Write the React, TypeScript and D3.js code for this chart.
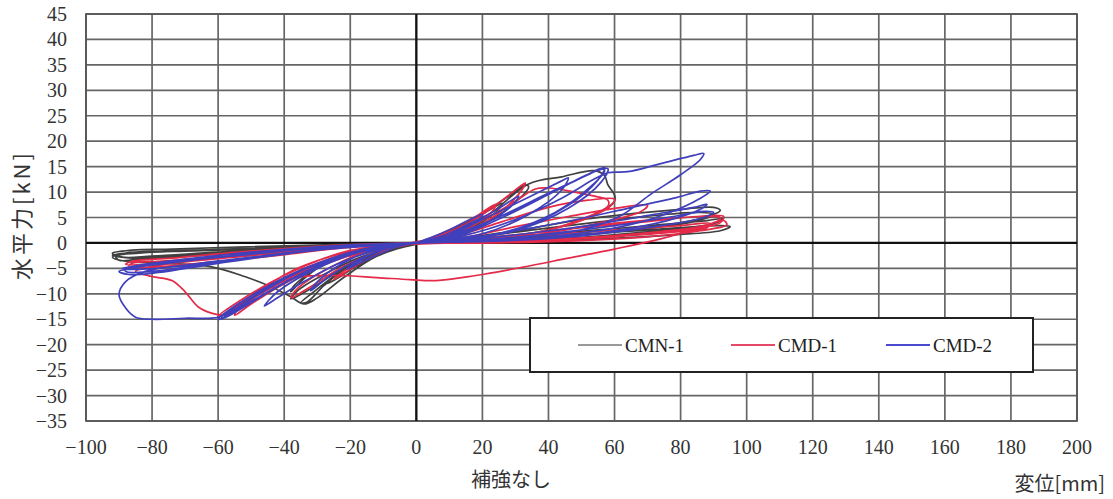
import React from "react";
import * as d3 from "d3";

const xTicks = [-100, -80, -60, -40, -20, 0, 20, 40, 60, 80, 100, 120, 140, 160, 180, 200];
const yTicks = [-35, -30, -25, -20, -15, -10, -5, 0, 5, 10, 15, 20, 25, 30, 35, 40, 45];

const seriesNames = ["CMN-1", "CMD-1", "CMD-2"];
const seriesColors = ["#404040", "#e42a48", "#4040bc"];
const legendColors = ["#9a9a9a", "#e84868", "#4a4ad0"];

const cmn1: [number, number][] = [
  [0, 0], [6, 1.2], [12, 3], [17, 4.6], [16, 3.6], [10, 1.6], [0, 0], [-8, -1.4], [-15, -3.4], [-18, -4.6], [-16, -3.6], [-8, -1.2], [0, 0],
  [8, 1.6], [16, 4], [22, 6.4], [26, 7.8], [24, 6], [16, 2.8], [6, 0.6], [-6, -1.2], [-16, -3.8], [-24, -7], [-27, -8], [-24, -6.2], [-14, -2.4], [0, 0],
  [10, 2.2], [20, 5.8], [28, 9.2], [33, 11.4], [34, 11], [30, 8], [20, 3.6], [8, 0.8], [-8, -1.2], [-20, -4.4], [-28, -8.4], [-33, -11.6], [-35, -11.8], [-31, -9.6], [-22, -5.2], [-10, -1.4], [0, 0],
  [10, 1.8], [22, 5.6], [34, 11.6], [44, 13], [54, 14.2], [57, 13.2], [58, 11.4], [60, 9.4], [60, 8.2], [54, 5.6], [40, 2.6], [22, 0.8], [4, 0.1], [-14, -1], [-26, -3.4], [-34, -7], [-38, -9.6], [-37, -8.4], [-30, -5], [-18, -1.6], [0, 0],
  [-10, -1.8], [-22, -5], [-32, -9], [-38, -11], [-36, -9.4], [-28, -6.2], [-16, -2.6], [0, 0],
  [14, 1], [32, 2.6], [50, 4.6], [66, 5.8], [80, 6.6], [90, 7], [92, 6.4], [86, 4.8], [70, 3], [50, 1.6], [26, 0.6], [0, 0], [-26, -0.6], [-50, -1.2], [-70, -1.6], [-84, -2], [-91, -2.6], [-90, -3.4], [-84, -3.2], [-68, -2.6], [-46, -1.6], [-22, -0.6], [0, 0],
  [16, 1], [36, 2.6], [56, 4.2], [72, 5.4], [86, 6], [90, 5.6], [84, 4.2], [66, 2.6], [44, 1.2], [20, 0.3], [0, 0], [-24, -0.4], [-50, -1], [-72, -1.6], [-88, -2], [-92, -2.4], [-86, -3], [-70, -2.4], [-44, -1.2], [-18, -0.3], [0, 0],
  [16, 0.6], [36, 1.6], [56, 2.6], [74, 3.6], [88, 4.4], [93, 4.8], [90, 3.8], [76, 2.6], [56, 1.4], [30, 0.4], [0, 0], [-28, -0.4], [-54, -0.8], [-74, -1.2], [-86, -1.4], [-92, -2], [-89, -2.8], [-80, -2.6], [-60, -1.8], [-36, -1], [-14, -0.3], [0, 0],
  [20, 0.6], [42, 1.4], [62, 2.2], [80, 3], [92, 3.4], [95, 3.2], [92, 2.4], [78, 1.6], [56, 0.8], [30, 0.2], [0, 0], [-30, -0.6], [-56, -1.2], [-76, -1.6], [-88, -2], [-92, -2.8], [-88, -3.6], [-76, -4], [-62, -4.7], [-52, -6.6], [-44, -8.6], [-38, -10.6], [-34, -12], [-30, -10.8], [-22, -6.8], [-12, -2.6], [0, 0],
];

const cmd1: [number, number][] = [
  [0, 0], [6, 1.4], [12, 3.2], [18, 5.2], [24, 7.6], [23, 6.2], [16, 3], [8, 1], [0, 0.2], [-8, -1.2], [-16, -3.6], [-22, -6], [-25, -7.2], [-22, -5.6], [-14, -2.2], [-6, -0.4], [0, 0],
  [8, 1.6], [16, 4], [24, 7.4], [30, 10.4], [33, 11.8], [31, 9.6], [24, 5.4], [14, 2], [2, 0.2], [-10, -1.4], [-22, -4.6], [-32, -8.6], [-38, -10.8], [-36, -9], [-26, -4.8], [-12, -1], [0, 0],
  [10, 1.6], [20, 4.4], [30, 8.2], [36, 10.6], [40, 10.8], [48, 10], [54, 9.2], [58, 8.4], [58, 7.2], [52, 5.2], [40, 2.6], [24, 1], [8, 0.3], [-10, -0.8], [-26, -3.8], [-40, -8], [-50, -12], [-55, -14.2], [-54, -13], [-46, -9.6], [-32, -5], [-16, -1.4], [0, 0],
  [12, 1.4], [26, 4.2], [40, 7], [52, 8.4], [60, 8.6], [59, 7.4], [50, 4.4], [36, 2], [18, 0.6], [0, 0], [-16, -1.4], [-32, -4.6], [-46, -9.4], [-56, -13.2], [-60, -14.6], [-56, -13.4], [-46, -9], [-30, -4], [-12, -0.8], [0, 0],
  [14, 1], [30, 3.2], [46, 5.2], [60, 6.8], [70, 7.4], [68, 6.2], [56, 4], [38, 1.8], [18, 0.4], [0, 0], [-18, -1.4], [-36, -5], [-50, -10.4], [-58, -14], [-60, -14.4], [-54, -11.6], [-40, -6.4], [-22, -1.8], [0, 0],
  [16, 0.8], [36, 2], [56, 3.6], [72, 4.6], [86, 5.2], [92, 5], [91, 4.2], [84, 3], [70, 2], [50, 1], [26, 0.3], [0, 0], [-24, -0.8], [-46, -2], [-64, -3], [-78, -3.6], [-86, -4], [-87, -4.6], [-82, -4.8], [-66, -4], [-44, -2.6], [-22, -1], [0, 0],
  [18, 0.6], [40, 1.6], [62, 2.6], [80, 3.4], [89, 3.8], [88, 3], [76, 2], [54, 1], [28, 0.2], [0, 0], [-28, -0.6], [-54, -1.8], [-74, -3], [-86, -3.6], [-88, -4.2], [-80, -4.2], [-60, -3], [-34, -1.4], [-12, -0.3], [0, 0],
  [10, 0.4], [30, 1.6], [50, 3], [70, 4.2], [85, 5.2], [93, 5.2], [92, 4], [80, 2.4], [60, 1.2], [35, 0.5], [10, 0], [-20, -0.8], [-45, -2.2], [-65, -3.4], [-80, -4.6], [-85, -5.6], [-80, -6.6], [-74, -7.4], [-70, -9.6], [-66, -12.6], [-62, -13.8], [-57, -14.2], [-54, -13.2], [-46, -9.4], [-36, -6.8], [-24, -6.4], [-12, -6.8], [-2, -7.2], [6, -7.4], [18, -6.4], [32, -4.8], [46, -3], [60, -1.2], [74, 0.8], [86, 3], [93, 4.4], [94, 3.6], [86, 2.4], [70, 1.2], [48, 0.4], [24, 0], [0, 0],
];

const cmd2: [number, number][] = [
  [0, 0], [5, 1.2], [10, 2.6], [15, 4.2], [20, 5.6], [19, 4.6], [14, 2.6], [8, 1], [0, 0.1], [-6, -0.8], [-12, -2.4], [-18, -4.2], [-21, -5.2], [-19, -4.2], [-12, -1.8], [-5, -0.4], [0, 0],
  [8, 1.4], [16, 3.8], [24, 6.4], [31, 9.2], [29, 7.4], [22, 4.2], [12, 1.4], [2, 0.2], [-8, -0.9], [-18, -3.4], [-26, -6.4], [-32, -9.4], [-29, -7], [-20, -3.2], [-10, -0.8], [0, 0],
  [10, 1.8], [22, 5.2], [34, 9], [44, 12.2], [46, 12.8], [44, 10.4], [34, 5.6], [20, 1.8], [6, 0.4], [-8, -0.8], [-22, -3.6], [-34, -7.6], [-44, -11.6], [-46, -12.4], [-42, -9.6], [-30, -5], [-14, -1.2], [0, 0],
  [10, 1.4], [24, 4.8], [38, 9], [50, 12.8], [56, 14.6], [57, 14.2], [53, 11.2], [42, 6], [26, 2], [8, 0.5], [-10, -0.8], [-26, -3.6], [-42, -8.6], [-54, -13], [-59, -15], [-57, -14], [-48, -10], [-34, -5.2], [-16, -1.4], [0, 0],
  [12, 1.6], [26, 5.4], [40, 9.8], [52, 13.4], [57, 14.8], [55, 12.4], [46, 7.4], [30, 2.6], [10, 0.6], [-10, -0.6], [-28, -4], [-44, -9.4], [-56, -14], [-59, -14.6], [-52, -11.2], [-36, -5.6], [-18, -1.6], [0, 0],
  [12, 1.2], [28, 5.6], [42, 10.2], [53, 13.8], [58, 14.6], [56, 12], [46, 6.8], [30, 2.4], [10, 0.4], [-12, -0.8], [-30, -4.6], [-46, -10], [-57, -14.4], [-60, -15], [-54, -12], [-38, -6.2], [-20, -2], [0, 0],
  [14, 1.4], [30, 4.6], [44, 8.8], [54, 12.6], [58, 13.8], [64, 14], [74, 15.6], [84, 17.2], [87, 17.6], [86, 16.4], [80, 13.4], [71, 9.6], [62, 5.4], [50, 2.6], [30, 1], [10, 0.4], [-10, -0.4], [-30, -1.4], [-50, -2.8], [-68, -4.2], [-82, -5.6], [-88, -7.6], [-90, -10.2], [-88, -12.8], [-85, -14.6], [-80, -15], [-70, -14.8], [-60, -14.6], [-55, -13], [-46, -9.4], [-32, -4.6], [-16, -1.2], [0, 0],
  [16, 1], [34, 2.8], [50, 4.8], [64, 6.8], [78, 8.8], [86, 10.2], [89, 10.2], [86, 8.8], [76, 5.8], [62, 3.2], [40, 1.2], [16, 0.3], [-10, -0.3], [-34, -1.2], [-56, -2.6], [-74, -3.8], [-86, -5], [-90, -5.6], [-87, -6.2], [-78, -5.8], [-62, -4.2], [-40, -2.2], [-18, -0.6], [0, 0],
  [18, 0.8], [38, 2.2], [56, 3.8], [72, 5.6], [84, 7], [88, 7.6], [86, 6.6], [76, 4.4], [58, 2.2], [36, 0.8], [12, 0.2], [-14, -0.4], [-38, -1.4], [-60, -2.8], [-78, -4.2], [-88, -5], [-88, -5.6], [-80, -5.6], [-62, -4], [-40, -2], [-16, -0.5], [0, 0],
  [20, 0.6], [40, 1.8], [60, 3.4], [76, 5], [87, 6.2], [90, 6], [86, 4.8], [70, 3], [50, 1.4], [26, 0.4], [0, 0], [-26, -0.6], [-50, -1.8], [-70, -3.2], [-84, -4.4], [-89, -5], [-84, -5.2], [-66, -4.2], [-44, -2.4], [-20, -0.6], [0, 0],
];

const allSeries = [cmn1, cmd1, cmd2];

const W = 1113;
const H = 499;
const x = d3.scaleLinear().domain([-100, 200]).range([86, 1077]);
const y = d3.scaleLinear().domain([-35, 45]).range([421, 14]);

const serif = "'Liberation Serif', 'DejaVu Serif', serif";
const cjk = "'Noto Sans CJK JP', sans-serif";

export default function App() {
  const line = d3
    .line<[number, number]>()
    .x((d) => x(d[0]))
    .y((d) => y(d[1]))
    .curve(d3.curveCatmullRom.alpha(0.5));

  const fmt = (v: number) => (v < 0 ? "\u2212" + Math.abs(v) : String(v));

  const legendX = 530;
  const legendY = 318;
  const legendItemX = [578, 731, 886];

  return (
    <svg
      width={W}
      height={H}
      style={{ position: "absolute", left: 0, top: 0, background: "#fff" }}
    >
      <rect x={0} y={0} width={W} height={H} fill="#fff" />
      {xTicks.map((t) => (
        <line
          key={"gx" + t}
          x1={x(t)}
          x2={x(t)}
          y1={y(45)}
          y2={y(-35)}
          stroke="#666"
          strokeWidth={1.7}
        />
      ))}
      {yTicks.map((t) => (
        <line
          key={"gy" + t}
          x1={x(-100)}
          x2={x(200)}
          y1={y(t)}
          y2={y(t)}
          stroke="#666"
          strokeWidth={1.7}
        />
      ))}
      <rect
        x={x(-100)}
        y={y(45)}
        width={x(200) - x(-100)}
        height={y(-35) - y(45)}
        fill="none"
        stroke="#555"
        strokeWidth={1.7}
      />
      <line x1={x(0)} x2={x(0)} y1={y(45)} y2={y(-35)} stroke="#111" strokeWidth={2.2} />
      <line x1={x(-100)} x2={x(200)} y1={y(0)} y2={y(0)} stroke="#111" strokeWidth={2.2} />

      {allSeries.map((s, i) => (
        <path
          key={seriesNames[i]}
          d={line(s) || ""}
          fill="none"
          stroke={seriesColors[i]}
          strokeWidth={1.7}
          strokeLinejoin="round"
        />
      ))}

      <rect
        x={legendX}
        y={legendY}
        width={503}
        height={54}
        fill="#fff"
        stroke="#222"
        strokeWidth={2}
      />
      {seriesNames.map((n, i) => (
        <g key={"lg" + n}>
          <line
            x1={legendItemX[i]}
            x2={legendItemX[i] + 44}
            y1={legendY + 27}
            y2={legendY + 27}
            stroke={legendColors[i]}
            strokeWidth={2}
          />
          <text
            x={legendItemX[i] + 47}
            y={legendY + 27}
            dominantBaseline="central"
            fontFamily={serif}
            fontSize={19}
            fill="#222"
          >
            {n}
          </text>
        </g>
      ))}

      {yTicks.map((t) => (
        <text
          key={"ly" + t}
          x={67}
          y={y(t)}
          textAnchor="end"
          dominantBaseline="central"
          fontFamily={serif}
          fontSize={20}
          fill="#333"
        >
          {fmt(t)}
        </text>
      ))}
      {xTicks.map((t) => (
        <text
          key={"lx" + t}
          x={x(t)}
          y={447}
          textAnchor="middle"
          dominantBaseline="central"
          fontFamily={serif}
          fontSize={20}
          fill="#333"
        >
          {fmt(t)}
        </text>
      ))}

      <text
        transform="translate(20,215) rotate(-90)"
        textAnchor="middle"
        dominantBaseline="central"
        fontFamily={cjk}
        fontSize={22}
        letterSpacing={3}
        fill="#333"
      >
        水平力[kN]
      </text>
      <text
        x={511}
        y={478}
        textAnchor="middle"
        dominantBaseline="central"
        fontFamily={cjk}
        fontSize={20}
        fill="#333"
      >
        補強なし
      </text>
      <text
        x={1105}
        y={482}
        textAnchor="end"
        dominantBaseline="central"
        fontFamily={cjk}
        fontSize={20}
        fill="#333"
      >
        変位[mm]
      </text>
    </svg>
  );
}
